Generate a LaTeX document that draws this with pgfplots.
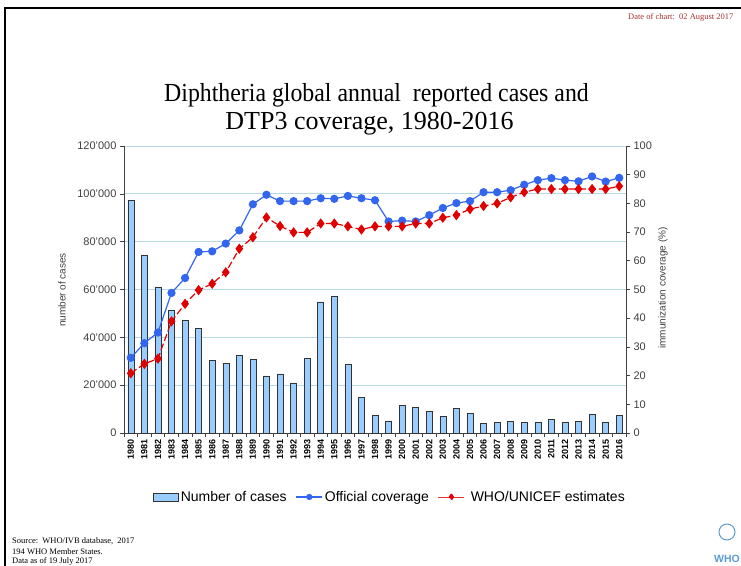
\documentclass[border=0pt]{standalone}
\usepackage{fontspec}
\setmainfont{Liberation Sans}
\newfontfamily\seriffont{Liberation Serif}
\usepackage{pgfplots}
\pgfplotsset{compat=1.18}
\usepackage{pgfplotstable}
\definecolor{barfill}{HTML}{99CCFF}
\definecolor{offblue}{HTML}{3366EE}
\definecolor{whored}{HTML}{E00000}
\definecolor{gridc}{HTML}{B8D8E8}
\definecolor{axc}{HTML}{404040}
\definecolor{datered}{HTML}{A83030}
\definecolor{whoblue}{HTML}{5B9BD5}

\pgfplotstableread{
year cases official whou
1980 97400 26.2 20.8
1981 74450 31.3 24.1
1982 61100 35.0 25.9
1983 51250 48.8 38.9
1984 47090 54.0 45.0
1985 43890 63.1 49.8
1986 30280 63.3 52.0
1987 29030 66.0 56.0
1988 32500 70.6 64.2
1989 30700 79.7 68.2
1990 23890 83.0 75.1
1991 24720 80.8 72.1
1992 20970 80.8 69.9
1993 31250 80.8 69.9
1994 54860 81.8 73.0
1995 57090 81.6 73.0
1996 28610 82.6 72.0
1997 14860 81.8 70.9
1998 7360 81.1 72.0
1999 4860 73.7 72.0
2000 11530 74.0 72.0
2001 10700 73.7 73.0
2002 9030 75.9 73.0
2003 7080 78.4 75.0
2004 10140 80.1 75.9
2005 8200 80.8 78.0
2006 4170 83.9 79.1
2007 4440 83.9 80.0
2008 4860 84.6 82.1
2009 4440 86.5 83.9
2010 4440 88.1 85.0
2011 5560 88.8 85.0
2012 4440 88.1 85.0
2013 4860 87.7 85.0
2014 7780 89.4 85.0
2015 4440 87.6 85.0
2016 7220 88.9 86.0
}\data

\begin{document}
\begin{tikzpicture}[x=1pt,y=1pt]
\useasboundingbox (0pt,0pt) rectangle (741pt,565pt);
% slide border
\draw[line width=2pt,black] (4.5pt,-2pt) -- (4.5pt,557pt) -- (745pt,557pt);
% date
\node[anchor=base east,text=datered,font=\seriffont\fontsize{8.5}{10}\selectfont] at (737pt,545pt) {Date of chart:\ \ 02 August 2017};
% title
\node[xscale=0.916,font=\seriffont\fontsize{26}{30}\selectfont,anchor=base] at (376.5pt,463pt) {Diphtheria global annual\ \ reported cases and};
\node[font=\seriffont\fontsize{26}{30}\selectfont,anchor=base] at (369.5pt,435.5pt) {DTP3 coverage, 1980-2016};

\begin{axis}[
  at={(124pt,132pt)}, anchor=south west,
  width=502pt, height=287pt, scale only axis,
  xmin=1979.5, xmax=2016.5,
  ymin=0, ymax=120000,
  axis x line*=bottom, axis y line*=left,
  axis line style={axc, line width=0.8pt},
  xtick={1980,1981,1982,1983,1984,1985,1986,1987,1988,1989,1990,1991,1992,1993,1994,1995,1996,1997,1998,1999,2000,2001,2002,2003,2004,2005,2006,2007,2008,2009,2010,2011,2012,2013,2014,2015,2016},
  xticklabels={1980,1981,1982,1983,1984,1985,1986,1987,1988,1989,1990,1991,1992,1993,1994,1995,1996,1997,1998,1999,2000,2001,2002,2003,2004,2005,2006,2007,2008,2009,2010,2011,2012,2013,2014,2015,2016},
  xticklabel style={rotate=90, anchor=east, font=\bfseries\fontsize{9}{10}\selectfont, text=black, inner sep=2pt},
  major x tick style={draw=none},
  minor xtick={1979.5,1980.5,...,2016.5},
  minor x tick style={axc, line width=0.6pt},
  minor tick length=4pt,
  tick align=outside,
  scaled y ticks=false,
  ytick={0,20000,40000,60000,80000,100000,120000},
  yticklabels={0,20'000,40'000,60'000,80'000,100'000,120'000},
  yticklabel style={font=\fontsize{11}{12}\selectfont, text=axc},
  major y tick style={axc, line width=0.6pt},
  major tick length=4pt,
  ymajorgrids, grid style={gridc, line width=0.8pt},
  ybar, bar width=6pt,
]
\addplot[fill=barfill, draw=black!80, line width=0.5pt] table[x=year,y=cases]{\data};
\end{axis}

\begin{axis}[
  at={(124pt,132pt)}, anchor=south west,
  width=502pt, height=287pt, scale only axis,
  xmin=1979.5, xmax=2016.5,
  ymin=0, ymax=100,
  axis x line=none, axis y line*=right,
  axis line style={axc, line width=0.8pt},
  ytick={0,10,20,30,40,50,60,70,80,90,100},
  yticklabels={0,10,20,30,40,50,60,70,80,90,100},
  yticklabel style={font=\fontsize{11}{12}\selectfont, text=axc},
  tick align=outside, major tick length=4pt,
  major y tick style={axc, line width=0.6pt},
  legend columns=3,
  legend style={at={(0.53,-0.223)}, anchor=center, draw=none, fill=none,
    font=\fontsize{14}{16}\selectfont, inner sep=0pt,
    /tikz/every even column/.append style={column sep=7pt}},
  legend cell align=left,
]
\addlegendimage{legend image code/.code={\draw[fill=barfill,draw=black!80,line width=0.5pt] (0pt,-4pt) rectangle (25pt,4pt);}}
\addlegendentry{Number of cases}
\addplot[offblue, line width=1.2pt, mark=*, mark size=3.5pt, mark options={solid,fill=offblue},
  legend image code/.code={\draw[offblue,line width=1.2pt] (0pt,0pt) -- (26pt,0pt); \fill[offblue] (13pt,0pt) circle (2.5pt);}]
  table[x=year,y=official]{\data};
\addlegendentry{Official coverage}
\addplot[whored, line width=1.2pt, dash pattern=on 7pt off 3pt, mark=diamond*, mark size=4.2pt, mark options={solid,fill=whored},
  legend image code/.code={\draw[solid,whored!80,line width=1pt] (0pt,0pt) -- (26pt,0pt); \fill[whored] (13pt,3pt) -- (15pt,0pt) -- (13pt,-3pt) -- (11pt,0pt) -- cycle;}]
  table[x=year,y=whou]{\data};
\addlegendentry{\ WHO/UNICEF estimates}
\end{axis}

% axis labels
\node[rotate=90, font=\fontsize{10}{12}\selectfont, text=axc] at (62pt,275pt) {number of cases};
\node[rotate=90, font=\fontsize{10}{12}\selectfont, text=axc] at (663pt,277pt) {immunization coverage (\%)};

% source
\begin{scope}[font=\seriffont\fontsize{8.5}{10}\selectfont]
\node[anchor=base west, inner sep=0pt] at (12pt,22pt) {Source:\ \ WHO/IVB database,\ \ 2017};
\node[anchor=base west, inner sep=0pt] at (12pt,11pt) {194 WHO Member States.};
\node[anchor=base west, inner sep=0pt] at (12pt,1.5pt) {Data as of 19 July 2017};
\end{scope}
% WHO mark
\draw[whoblue, line width=1pt] (727pt,33pt) circle (8pt);
\node[anchor=base east, inner sep=0pt, text=whoblue, font=\bfseries\fontsize{10.5}{12}\selectfont] at (740pt,3pt) {WHO};
\end{tikzpicture}
\end{document}
